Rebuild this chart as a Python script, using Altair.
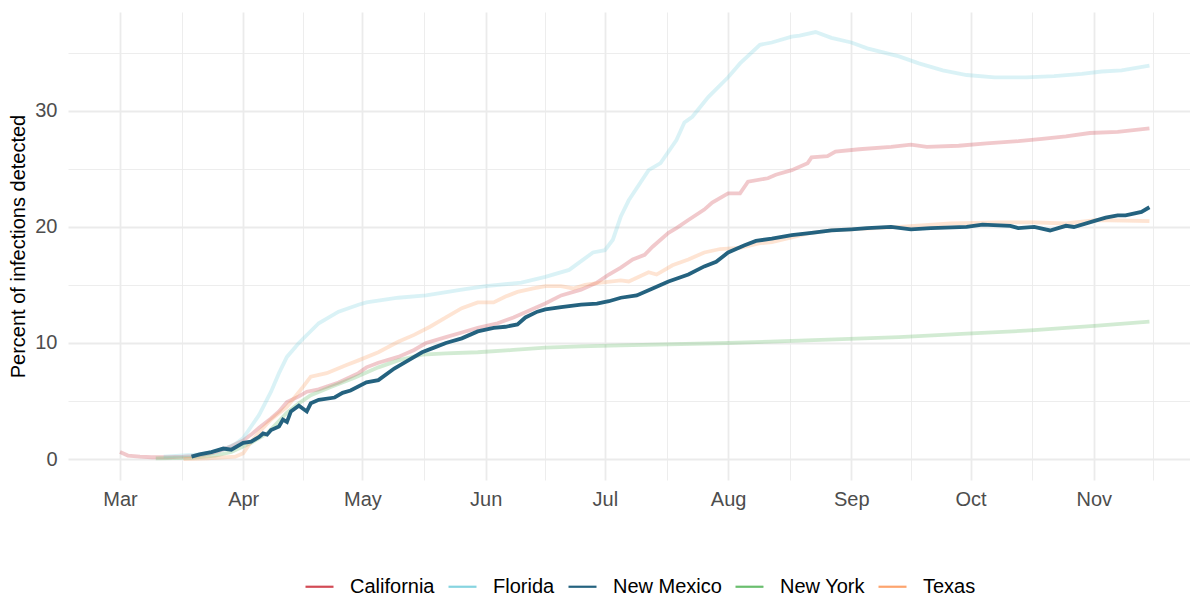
import altair as alt
import pandas as pd

# ---- data (day offsets from 2020-03-01, percent of infections detected) ----
states = ["California", "Florida", "New Mexico", "New York", "Texas"]
colors = ["#D24B55", "#86D4E0", "#24627F", "#6ABE6E", "#FDA46E"]

ca_days = [0, 2, 5, 8, 12, 16, 18, 21, 23, 25, 28, 31, 33, 35, 38, 40, 42, 45, 47, 50,
           55, 60, 62, 65, 70, 74, 77, 82, 86, 90, 95, 99, 103, 107, 111, 116, 120, 123,
           126, 129, 132, 134, 138, 140, 143, 147, 149, 153, 156, 158, 163, 165, 169, 173,
           174, 178, 180, 186, 194, 199, 203, 211, 218, 226, 232, 238, 244, 251, 259]
ca_vals = [0.6, 0.3, 0.2, 0.15, 0.15, 0.2, 0.25, 0.35, 0.5, 0.7, 1.1, 1.6, 2.1, 2.7, 3.5,
           4.1, 4.9, 5.4, 5.8, 6.0, 6.6, 7.4, 7.9, 8.3, 8.8, 9.4, 10.0, 10.5, 10.9, 11.3,
           11.7, 12.2, 12.8, 13.4, 14.1, 14.6, 15.2, 15.9, 16.5, 17.2, 17.6, 18.3, 19.5,
           19.9, 20.6, 21.5, 22.1, 22.9, 22.9, 23.9, 24.2, 24.5, 24.9, 25.5, 26.0, 26.1,
           26.5, 26.7, 26.9, 27.1, 26.9, 27.0, 27.2, 27.4, 27.6, 27.8, 28.1, 28.2, 28.5]

fl_days = [11, 20, 26, 29, 31, 33, 35, 38, 40, 42, 45, 50, 55, 60, 62, 70, 77, 86, 92, 101,
           107, 113, 119, 122, 124, 126, 128, 133, 136, 140, 142, 144, 148, 153, 156, 161,
           164, 169, 171, 175, 179, 184, 188, 196, 201, 207, 213, 220, 228, 235, 242, 247,
           252, 259]
fl_vals = [0.2, 0.4, 0.8, 1.3, 1.8, 2.8, 3.8, 5.8, 7.4, 8.8, 10.0, 11.7, 12.7, 13.3, 13.5,
           13.9, 14.1, 14.6, 14.9, 15.2, 15.7, 16.3, 17.8, 18.0, 18.9, 20.9, 22.3, 24.9,
           25.5, 27.5, 29.0, 29.5, 31.2, 32.9, 34.1, 35.7, 35.9, 36.4, 36.5, 36.8, 36.3,
           35.9, 35.4, 34.7, 34.1, 33.5, 33.1, 32.9, 32.9, 33.0, 33.2, 33.4, 33.5, 33.9]

nm_days = [18, 20, 23, 26, 28, 31, 33, 35, 36, 37, 38, 40, 41, 42, 43, 45, 47, 48, 50, 54,
           56, 58, 62, 65, 69, 72, 76, 79, 82, 86, 90, 94, 97, 100, 102, 105, 107, 111, 116,
           120, 123, 126, 130, 134, 138, 143, 147, 150, 153, 157, 160, 164, 169, 174, 179,
           184, 188, 194, 199, 204, 213, 217, 224, 226, 230, 234, 238, 240, 245, 248, 251,
           253, 257, 259]
nm_vals = [0.2, 0.4, 0.6, 0.9, 0.8, 1.4, 1.5, 1.9, 2.2, 2.1, 2.5, 2.8, 3.4, 3.2, 4.1, 4.6,
           4.1, 4.8, 5.1, 5.3, 5.7, 5.9, 6.6, 6.8, 7.8, 8.4, 9.2, 9.6, 10.0, 10.4, 11.0, 11.3,
           11.4, 11.6, 12.2, 12.7, 12.9, 13.1, 13.3, 13.4, 13.6, 13.9, 14.1, 14.7, 15.3, 15.9,
           16.6, 17.0, 17.8, 18.4, 18.8, 19.0, 19.3, 19.5, 19.7, 19.8, 19.9, 20.0, 19.8, 19.9,
           20.0, 20.2, 20.1, 19.9, 20.0, 19.7, 20.1, 20.0, 20.5, 20.8, 21.0, 21.0, 21.3, 21.7]

ny_days = [9, 18, 24, 28, 33, 37, 42, 45, 48, 53, 59, 65, 70, 76, 82, 90, 99, 107, 116, 126,
           153, 171, 196, 213, 230, 246, 259]
ny_vals = [0.05, 0.1, 0.3, 0.6, 1.4, 2.2, 4.0, 4.8, 5.5, 6.2, 7.0, 7.9, 8.5, 9.0, 9.1, 9.2,
           9.4, 9.6, 9.7, 9.8, 10.0, 10.2, 10.5, 10.8, 11.1, 11.5, 11.85]

tx_days = [16, 22, 29, 31, 33, 35, 38, 42, 46, 48, 52, 57, 60, 65, 70, 74, 78, 82, 86, 90,
           94, 97, 100, 104, 107, 111, 114, 117, 121, 126, 128, 133, 135, 139, 143, 147, 151,
           156, 161, 164, 169, 174, 179, 184, 196, 209, 221, 230, 238, 246, 259]
tx_vals = [0.0, 0.05, 0.2, 0.5, 1.5, 2.3, 3.4, 4.5, 6.2, 7.1, 7.4, 8.1, 8.5, 9.2, 10.1, 10.7,
           11.4, 12.2, 13.0, 13.5, 13.5, 14.0, 14.4, 14.7, 14.9, 14.9, 14.7, 15.0, 15.2, 15.4,
           15.3, 16.1, 15.9, 16.7, 17.2, 17.8, 18.1, 18.2, 18.6, 18.7, 19.1, 19.5, 19.7, 19.8,
           20.0, 20.3, 20.4, 20.4, 20.3, 20.6, 20.5]

series = {
    "California": (ca_days, ca_vals),
    "Florida": (fl_days, fl_vals),
    "New Mexico": (nm_days, nm_vals),
    "New York": (ny_days, ny_vals),
    "Texas": (tx_days, tx_vals),
}

base_date = pd.Timestamp("2020-03-01")
rows = []
for st, (dd, vv) in series.items():
    assert len(dd) == len(vv), st
    for d, v in zip(dd, vv):
        rows.append({
            "date": (base_date + pd.Timedelta(days=d)).strftime("%Y-%m-%dT%H:%M:%SZ"),
            "state": st,
            "value": v,
        })
df = pd.DataFrame(rows)

FONT = "Liberation Sans"

# month starts (labelled) and mid-month minor breaks
x_values = []
for m in range(3, 12):
    x_values.append(alt.DateTime(year=2020, month=m, date=1, utc=True))
mids = [(3, 16, 12), (4, 16, 0), (5, 16, 12), (6, 16, 0), (7, 16, 12),
        (8, 16, 12), (9, 16, 0), (10, 16, 12), (11, 16, 0)]
for m, d, h in mids:
    x_values.append(alt.DateTime(year=2020, month=m, date=d, hours=h, utc=True))

x_enc = alt.X(
    "date:T",
    title=None,
    scale=alt.Scale(
        type="utc",
        domain=[alt.DateTime(year=2020, month=2, date=16, hours=22, utc=True),
                alt.DateTime(year=2020, month=11, date=25, hours=5, utc=True)],
    ),
    axis=alt.Axis(
        values=x_values,
        labelExpr="utcdate(datum.value) == 1 ? utcFormat(datum.value, '%b') : ''",
        gridWidth={"condition": {"test": "utcdate(datum.value) == 1", "value": 1.8}, "value": 0.9},
        labelFlush=False,
        labelOverlap=False,
        labelPadding=9,
    ),
)

y_enc = alt.Y(
    "value:Q",
    title="Percent of infections detected",
    scale=alt.Scale(domain=[-1.81, 38.53], nice=False, zero=False),
    axis=alt.Axis(
        values=[0, 5, 10, 15, 20, 25, 30, 35],
        labelExpr="datum.value % 10 == 0 ? datum.label : ''",
        gridWidth={"condition": {"test": "datum.value % 10 == 0", "value": 1.8}, "value": 0.9},
        labelPadding=11,
        titleX=-50,
        titleY=234,
        titleAngle=270,
        titleAlign="center",
        titleBaseline="middle",
        titleColor="#000000",
        titleFontSize=20,
        titleFontWeight="normal",
        labelOverlap=False,
    ),
)

color_scale = alt.Scale(domain=states, range=colors)

faded = alt.Chart(df).transform_filter(
    "datum.state != 'New Mexico'"
).mark_line(strokeWidth=3.8, opacity=0.3).encode(
    x=x_enc,
    y=y_enc,
    color=alt.Color(
        "state:N",
        scale=color_scale,
        legend=alt.Legend(
            title=None,
            orient="none",
            legendX=236,
            legendY=559,
            direction="horizontal",
            symbolType="stroke",
            symbolSize=784,
            symbolStrokeWidth=2.2,
            symbolOpacity=1,
            labelFontSize=20,
            labelFont=FONT,
            labelColor="#000000",
            labelOffset=15,
            columnPadding=9,
            padding=0,
        ),
    ),
)

nm = alt.Chart(df).transform_filter(
    "datum.state == 'New Mexico'"
).mark_line(strokeWidth=3.8, opacity=1).encode(
    x=x_enc,
    y=y_enc,
    color=alt.Color("state:N", scale=color_scale),
)

chart = alt.layer(faded, nm).properties(
    width=1122,
    height=468,
    autosize=alt.AutoSizeParams(type="none"),
    padding={"left": 60, "top": 4, "right": 0, "bottom": 116},
    background="white",
).configure_view(
    stroke=None
).configure_axis(
    domain=False,
    ticks=False,
    tickSize=0,
    gridColor="#EBEBEB",
    labelFont=FONT,
    labelFontSize=20,
    labelColor="#4D4D4D",
    titleFont=FONT,
)

chart.save("out.html", embed_options={"renderer": "svg", "actions": False})
